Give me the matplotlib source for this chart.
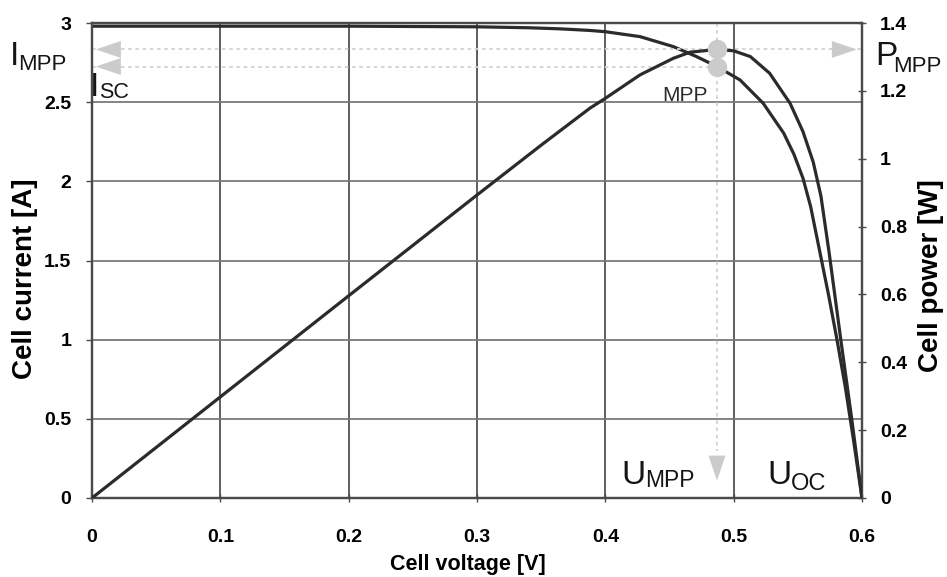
import matplotlib
matplotlib.use('Agg')
import matplotlib.pyplot as plt
from matplotlib.patches import Polygon

plt.rcParams['font.family'] = ['Liberation Sans', 'DejaVu Sans']

# ---- data ----
voltage_i = [0, 0.1, 0.2, 0.3, 0.34, 0.365, 0.388, 0.4, 0.427, 0.453, 0.471, 0.487,
             0.505, 0.523, 0.539, 0.547, 0.554, 0.560, 0.567, 0.574, 0.5805, 0.587,
             0.5935, 0.6]
current = [2.98, 2.98, 2.98, 2.976, 2.97, 2.963, 2.953, 2.945, 2.914, 2.851, 2.788, 2.725,
           2.64, 2.493, 2.304, 2.17, 2.02, 1.84, 1.56, 1.28, 1.0, 0.70,
           0.36, 0]

voltage_p = [0, 0.1, 0.2, 0.3, 0.35, 0.388, 0.4, 0.427, 0.453, 0.466, 0.487, 0.5,
             0.513, 0.528, 0.544, 0.554, 0.562, 0.568, 0.5745, 0.5835, 0.592, 0.6]
power = [0, 0.298, 0.596, 0.893, 1.040, 1.149, 1.178, 1.247, 1.296, 1.314, 1.322, 1.318,
         1.301, 1.252, 1.163, 1.08, 0.99, 0.89, 0.72, 0.466, 0.233, 0]

x_ticks = [0, 0.1, 0.2, 0.3, 0.4, 0.5, 0.6]
x_tick_labels = ['0', '0.1', '0.2', '0.3', '0.4', '0.5', '0.6']
i_ticks = [0, 0.5, 1, 1.5, 2, 2.5, 3]
i_tick_labels = ['0', '0.5', '1', '1.5', '2', '2.5', '3']
p_ticks = [0, 0.2, 0.4, 0.6, 0.8, 1.0, 1.2, 1.4]
p_tick_labels = ['0', '0.2', '0.4', '0.6', '0.8', '1', '1.2', '1.4']

mpp_voltage = 0.487
mpp_current = 2.725
mpp_power = 1.322

W, H = 947, 577
fig = plt.figure(figsize=(W / 100, H / 100), dpi=100)
L, R, T, B = 92, 862, 23, 498
ax = fig.add_axes([L / W, 1 - B / H, (R - L) / W, (B - T) / H])
ax2 = ax.twinx()

ax.set_xlim(0, 0.6)
ax.set_ylim(0, 3)
ax2.set_ylim(0, 1.4)

curve_col = '#2b2b2b'
grid_col = '#5e5e5e'
light = '#cbcbcb'

# grid
for x in x_ticks[1:-1]:
    ax.axvline(x, color=grid_col, lw=1.4, zorder=1)
for y in i_ticks[1:-1]:
    ax.axhline(y, color='#7a7a7a', lw=1.3, zorder=1)

# curves
ax.plot(voltage_i, current, color=curve_col, lw=2.3, zorder=4,
        solid_capstyle='round', solid_joinstyle='round')
ax2.plot(voltage_p, power, color=curve_col, lw=2.3, zorder=4,
         solid_capstyle='round', solid_joinstyle='round')

# dotted helper lines
dot = dict(color='#d2d2d2', lw=1.3, linestyle=(0, (2, 2)), zorder=2)
ax2.plot([0, 0.6], [mpp_power, mpp_power], **dot)
ax.plot([0, mpp_voltage], [mpp_current, mpp_current], **dot)
ax.plot([mpp_voltage, mpp_voltage], [3, 0.3], **dot)

# arrowheads (pixel-sized, converted into data units)
pxx = 0.6 / (R - L)
pxy_i = 3.0 / (B - T)
pxy_p = 1.4 / (B - T)


def head(axis, x, y, direction, sy, length=25, half=8.5):
    if direction == 'left':
        verts = [(x, y), (x + length * pxx, y + half * sy), (x + length * pxx, y - half * sy)]
    elif direction == 'right':
        verts = [(x, y), (x - length * pxx, y + half * sy), (x - length * pxx, y - half * sy)]
    else:  # down
        verts = [(x, y), (x - half * pxx, y + length * sy), (x + half * pxx, y + length * sy)]
    axis.add_patch(Polygon(verts, closed=True, facecolor=light, edgecolor='none',
                           zorder=5, clip_on=False))


head(ax2, 0.003, mpp_power, 'left', pxy_p)
head(ax2, 0.596, mpp_power, 'right', pxy_p)
head(ax, 0.003, mpp_current, 'left', pxy_i)
head(ax, mpp_voltage, 0.11, 'down', pxy_i)

# MPP markers
ax2.plot([mpp_voltage], [mpp_power], 'o', ms=14, color=light, mec='none', zorder=6)
ax.plot([mpp_voltage], [mpp_current], 'o', ms=14, color=light, mec='none', zorder=6)

# axes styling
for a in (ax, ax2):
    for s in a.spines.values():
        s.set_color('#4a4a4a')
        s.set_linewidth(1.6)

tick_font = dict(fontsize=14, fontweight='bold')
ax.set_xticks(x_ticks)
ax.set_xticklabels(x_tick_labels, **tick_font)
ax.set_yticks(i_ticks)
ax.set_yticklabels(i_tick_labels, **tick_font)
ax2.set_yticks(p_ticks)
ax2.set_yticklabels(p_tick_labels, **tick_font)
ax.tick_params(axis='x', direction='inout', length=6, width=1, color='#4a4a4a', pad=19)
ax.tick_params(axis='y', direction='out', length=4, width=1, color='#4a4a4a', pad=11)
ax2.tick_params(axis='y', direction='inout', length=6, width=1, color='#4a4a4a', pad=10)


def fpos(x, y):
    return x / W, 1 - y / H


fig.text(*fpos(468, 570), 'Cell voltage [V]', ha='center', va='baseline',
         fontsize=15.5, fontweight='bold')
fig.text(*fpos(25, 279), 'Cell current [A]', ha='center', va='center',
         rotation=90, fontsize=20, fontweight='bold')
fig.text(*fpos(931, 276), 'Cell power [W]', ha='center', va='center',
         rotation=90, fontsize=20, fontweight='bold')

big = 24
sub = 16
tc = '#151515'


def label(xm, ym, main, xs, ys, subtxt, subsize=sub):
    fig.text(*fpos(xm, ym), main, ha='left', va='baseline', fontsize=big, color=tc)
    fig.text(*fpos(xs, ys), subtxt, ha='left', va='baseline', fontsize=subsize, color=tc)


label(10, 65, 'I', 18, 70, 'MPP')
label(90, 96, 'I', 99, 98, 'SC', 15.5)
label(875, 65, 'P', 893, 72, 'MPP')
label(621, 484, 'U', 645, 487, 'MPP', 16.5)
label(767, 484, 'U', 791, 490, 'OC', 17)
fig.text(*fpos(662, 101), 'MPP', ha='left', va='baseline', fontsize=15, color='#2a2a2a')

fig.savefig('out.png', dpi=100)
